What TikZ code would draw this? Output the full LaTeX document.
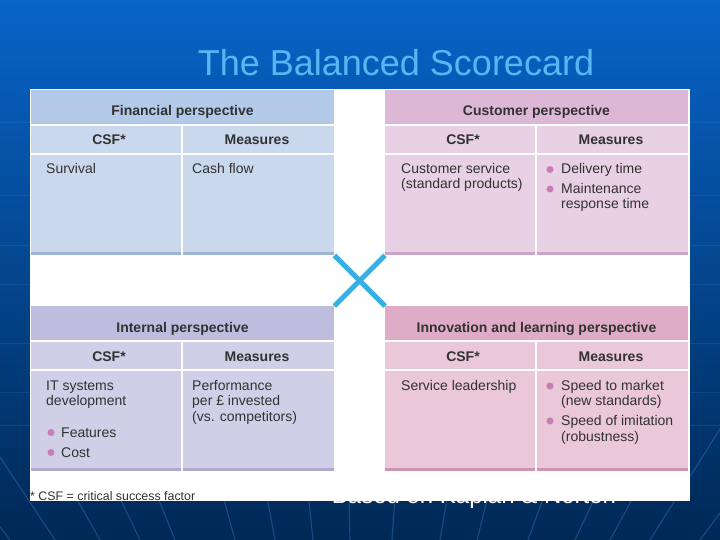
\documentclass[tikz,border=0pt]{standalone}
\usepackage{fontspec}
\setmainfont{Liberation Sans}
\usetikzlibrary{calc}
\definecolor{bgtop}{RGB}{8,100,200}
\definecolor{bgmid}{RGB}{0,74,155}
\definecolor{bgbot}{RGB}{0,40,85}
\definecolor{bgln}{RGB}{70,140,220}
\definecolor{titlec}{RGB}{90,182,242}
\definecolor{xcol}{RGB}{58,176,226}
\definecolor{txt}{RGB}{50,50,50}
\definecolor{bulc}{RGB}{200,125,180}
\definecolor{finh}{RGB}{178,201,232}
\definecolor{finb}{RGB}{202,216,238}
\definecolor{fins}{RGB}{160,180,212}
\definecolor{cush}{RGB}{221,184,214}
\definecolor{cusb}{RGB}{232,209,228}
\definecolor{cuss}{RGB}{204,165,198}
\definecolor{inth}{RGB}{190,189,223}
\definecolor{intb}{RGB}{209,207,232}
\definecolor{ints}{RGB}{172,170,208}
\definecolor{innh}{RGB}{222,172,198}
\definecolor{innb}{RGB}{234,199,217}
\definecolor{inns}{RGB}{205,150,178}
\newcommand\bsquad[7]{%
  \node[quadbox, fill=#5] (#1) at (#2,#3) {};
  \fill[#4] (#2,#3) rectangle ++(303,34);
  \fill[#6] (#2,#3+162) rectangle ++(303,3);
  \fill[white] (#2,#3+34) rectangle ++(303,2);
  \fill[white] (#2,#3+63) rectangle ++(303,2);
  \fill[white] (#2+150,#3+34) rectangle ++(2,131);
  \node[hdr] (#1h) at (#2+151.5,#3+26) {#7};
  \node[hdr] (#1c) at (#2+78,#3+55) {CSF*};
  \node[hdr] (#1m) at (#2+226,#3+55) {Measures};
}
\begin{document}
\begin{tikzpicture}[x=1pt,y=-1pt,
  quadbox/.style={rectangle, draw=none, anchor=north west, inner sep=0pt, minimum width=303pt, minimum height=165pt},
  hdr/.style={font=\fontsize{14}{16}\selectfont\bfseries, text=txt, anchor=base, inner sep=0pt},
  bodytxt/.style={font=\fontsize{14}{16}\selectfont, text=txt, anchor=base west, inner sep=0pt},
  bul/.style={circle, fill=bulc, draw=none, inner sep=0pt, minimum size=7pt},
  bgline/.style={bgln, line width=1.1pt, opacity=0.35},
  xline/.style={xcol, line width=5pt}]
\useasboundingbox (0,0) rectangle (720,540);
\shade[top color=bgtop, middle color=bgmid, bottom color=bgbot] (0,0) rectangle (720,540);
% faint background pattern
\foreach \yy in {122,195,245,284,343,392,425}
  \draw[bgln, line width=0.8pt, opacity=0.18] (0,\yy) -- (720,\yy);
\coordinate (vp) at (360,1000);
\foreach \xb in {-40,10,55,100,140,175,235,275,313,350,392,440,477,528,575,610,650,700,750}
  \draw[bgline] ($(vp)!1.25!(\xb,540)$) -- (\xb,540);
% title
\node[font=\fontsize{36}{40}\selectfont, text=titlec, anchor=base] (title) at (396,76) {The Balanced Scorecard};
% source note (mostly hidden behind panel)
\node[font=\fontsize{24}{28}\selectfont, text=white, anchor=base] (src) at (474,503) {Based on Kaplan \& Norton};
% white panel
\fill[white] (30,89) rectangle (690,501);
% quadrants
\bsquad{fin}{31}{90}{finh}{finb}{fins}{Financial perspective}
\bsquad{cus}{385}{90}{cush}{cusb}{cuss}{Customer perspective}
\bsquad{int}{31}{306}{inth}{intb}{ints}{Internal perspective}
\bsquad{inn}{385}{306}{innh}{innb}{inns}{Innovation and learning perspective}
% cross
\draw[xline] (fin.south east) -- (inn.north west);
\draw[xline] (cus.south west) -- (int.north east);
% financial body
\node[bodytxt] (f1) at (46,174) {Survival};
\node[bodytxt] (f2) at (192,174) {Cash flow};
% customer body
\node[bodytxt] (c1) at (401,174) {Customer service};
\node[bodytxt] (c2) at (401,189) {(standard products)};
\node[bul] (cb1) at (550,169.5) {};
\node[bul] (cb2) at (550,189) {};
\node[bodytxt] (c3) at (561,174) {Delivery time};
\node[bodytxt] (c4) at (561,193.5) {Maintenance};
\node[bodytxt] (c5) at (561,208.5) {response time};
% internal body
\node[bodytxt] (i1) at (46,390.5) {IT systems};
\node[bodytxt] (i2) at (46,405.5) {development};
\node[bul] (ib1) at (51,432.5) {};
\node[bul] (ib2) at (51,452.5) {};
\node[bodytxt] (i3) at (61,437) {Features};
\node[bodytxt] (i4) at (61,457) {Cost};
\node[bodytxt] (i5) at (192,390.5) {Performance};
\node[bodytxt] (i6) at (192,405.5) {per £ invested};
\node[bodytxt] (i7) at (192,421) {(vs. competitors)};
% innovation body
\node[bodytxt] (n1) at (401,390.5) {Service leadership};
\node[bul] (nb1) at (550,386) {};
\node[bul] (nb2) at (550,421) {};
\node[bodytxt] (n2) at (561,390.5) {Speed to market};
\node[bodytxt] (n3) at (561,405.5) {(new standards)};
\node[bodytxt] (n4) at (561,425.5) {Speed of imitation};
\node[bodytxt] (n5) at (561,441) {(robustness)};
% footnote
\node[font=\fontsize{12.4}{14}\selectfont, text=txt, anchor=base west, inner sep=0pt] (foot) at (30,500) {* CSF = critical success factor};
\end{tikzpicture}
\end{document}
